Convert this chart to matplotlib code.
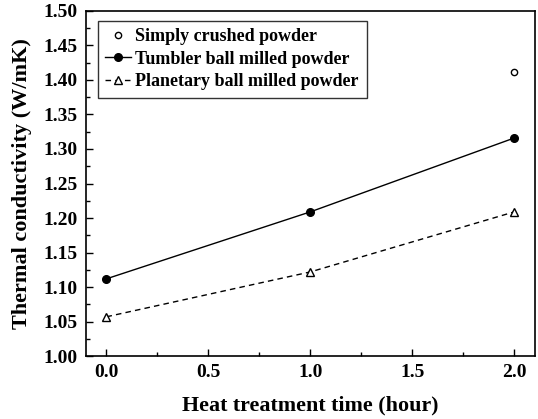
import matplotlib
matplotlib.use("Agg")
import matplotlib.pyplot as plt
from matplotlib.ticker import MultipleLocator, FormatStrFormatter

plt.rcParams['font.family'] = ['Liberation Serif', 'DejaVu Serif']
plt.rcParams['font.weight'] = 'bold'

x_time = [0.0, 1.0, 2.0]
tumbler = [1.112, 1.209, 1.316]
planetary = [1.057, 1.122, 1.209]
crushed_x = [2.0]
crushed = [1.412]

fig = plt.figure(figsize=(5.38, 4.19), dpi=100)
ax = fig.add_axes([0.160, 0.150, 0.834, 0.824])

ax.plot(crushed_x, crushed, linestyle='none', marker='o', mfc='white', mec='black',
        ms=4.5, mew=1.0, label='Simply crushed powder')
ax.plot(x_time, tumbler, color='black', lw=1.0, marker='o', ms=5.5, mfc='black',
        mec='black', label='Tumbler ball milled powder')
ax.plot(x_time, planetary, color='black', lw=1.0, ls=(0, (4, 3)), marker='^', ms=5.5,
        mfc='white', mec='black', mew=1.0, label='Planetary ball milled powder')

ax.set_xlim(-0.1, 2.1)
ax.set_ylim(1.0, 1.5)
ax.xaxis.set_major_locator(MultipleLocator(0.5))
ax.xaxis.set_minor_locator(MultipleLocator(0.25))
ax.yaxis.set_major_locator(MultipleLocator(0.05))
ax.yaxis.set_minor_locator(MultipleLocator(0.025))
ax.xaxis.set_major_formatter(FormatStrFormatter('%.1f'))
ax.yaxis.set_major_formatter(FormatStrFormatter('%.2f'))
ax.tick_params(which='both', direction='in', top=False, right=False)
ax.tick_params(which='major', length=5, width=1.0, labelsize=14)
ax.tick_params(axis='x', which='major', pad=6)
ax.tick_params(axis='y', which='major', pad=6)
ax.tick_params(which='minor', length=3, width=1.0)
for s in ax.spines.values():
    s.set_linewidth(1.2)

ax.set_xlabel('Heat treatment time (hour)', fontsize=15.8, fontweight='bold', labelpad=10)
ax.set_ylabel('Thermal conductivity (W/mK)', fontsize=16, fontweight='bold', labelpad=8)

leg = ax.legend(loc='upper left', bbox_to_anchor=(0.027, 0.0, 0.599, 0.971), mode='expand',
                fontsize=13, frameon=True, fancybox=False, edgecolor='black',
                handlelength=1.4, borderpad=0.4, labelspacing=0.31, handletextpad=0.25,
                borderaxespad=0.0)
leg.get_frame().set_linewidth(1.0)
for t in leg.get_texts():
    t.set_fontweight('bold')

fig.savefig('out.png', dpi=100)
